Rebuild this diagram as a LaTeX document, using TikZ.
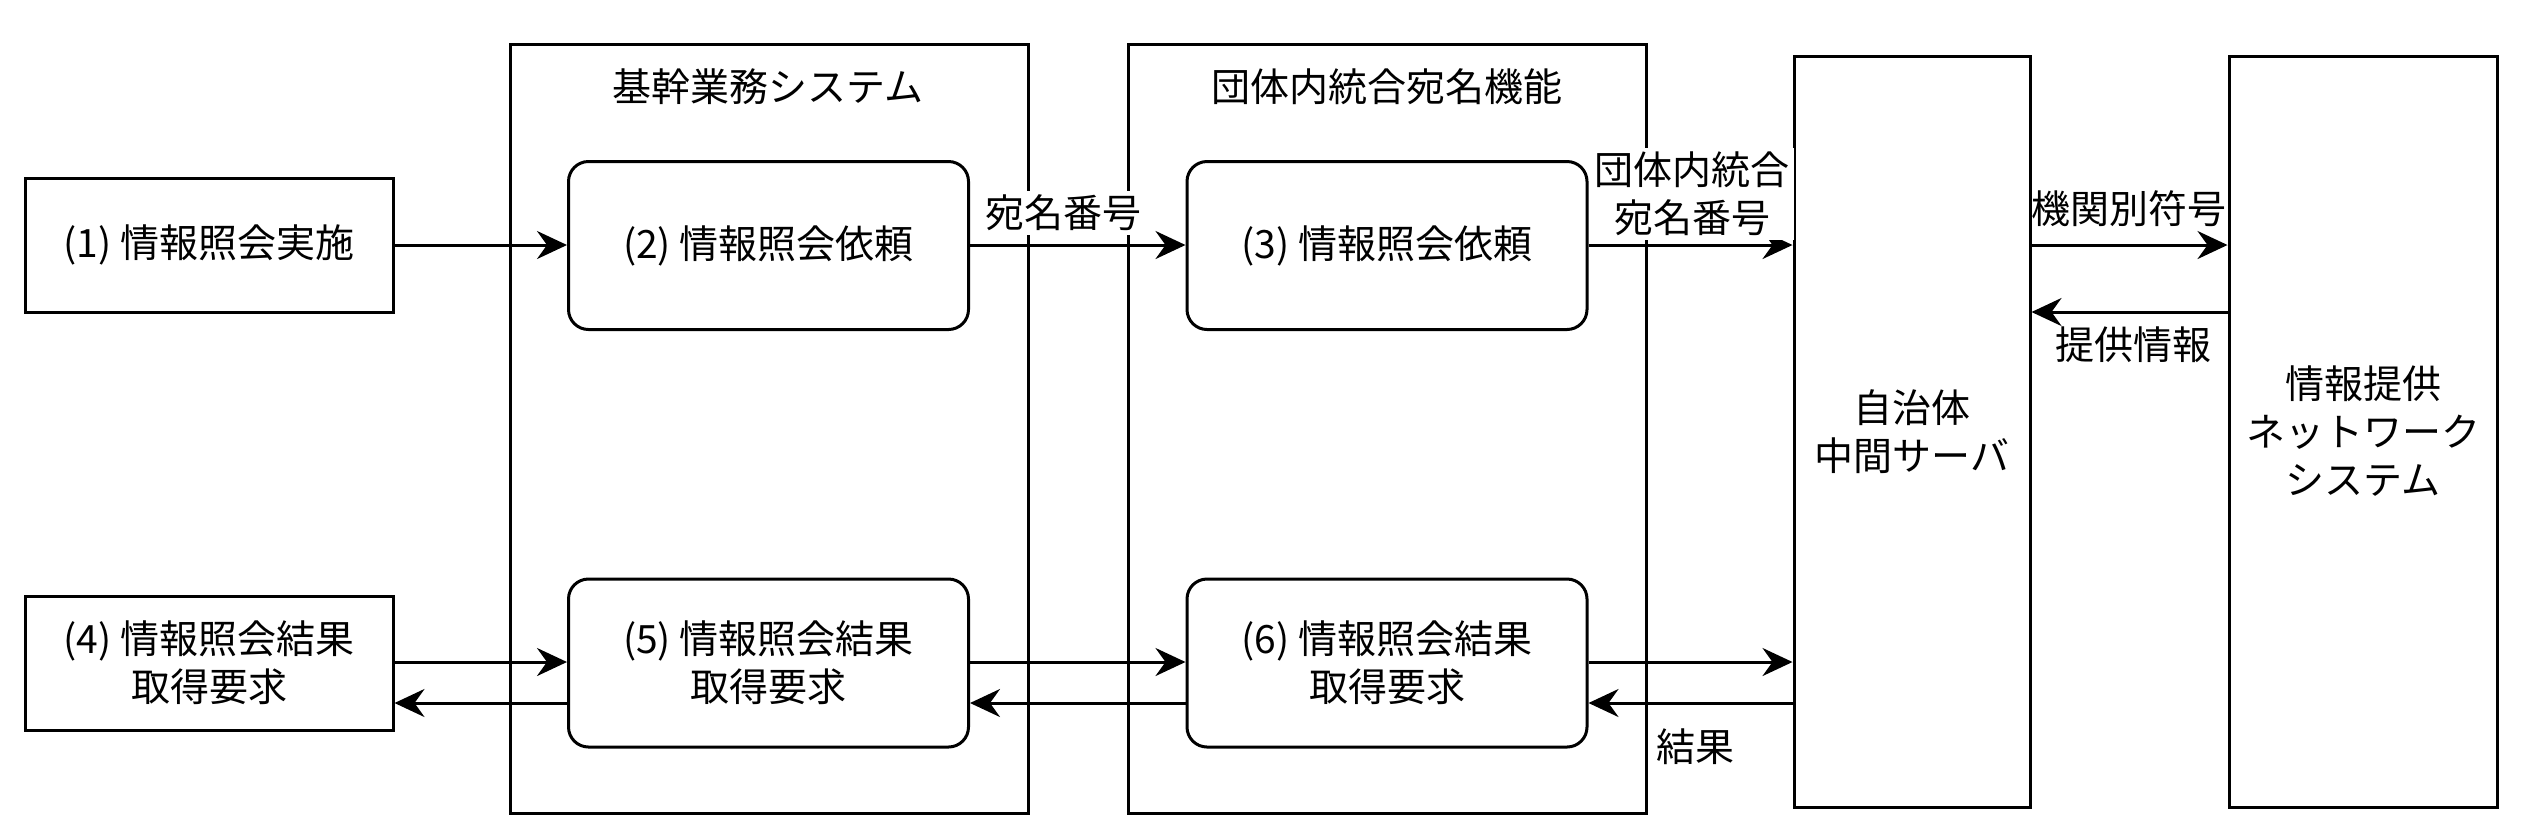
\documentclass[tikz,border=0pt]{standalone}
\usepackage{fontspec}
\setmainfont{Noto Sans CJK JP}
\usepackage{tikz}
\usetikzlibrary{arrows.meta}
\tikzset{every picture/.style={line width=0.75pt}}
\tikzset{
  group/.style={draw, minimum width=129.5pt, minimum height=192.25pt},
  plainbox/.style={draw, minimum width=92pt, minimum height=33.5pt, align=center},
  roundbox/.style={draw, rounded corners=5pt, minimum width=100pt, minimum height=42pt, align=center},
  tallbox/.style={draw, minimum height=187.75pt, align=center},
  lbl/.style={inner sep=1pt, align=center},
  cutlbl/.style={lbl, fill=white}
}

\begin{document}
\begin{tikzpicture}[x=0.25pt,y=0.25pt,yscale=-1,xscale=1,
    font=\fontsize{9.75}{12}\selectfont,
    >={Stealth[length=7.5pt,width=7pt,inset=2.5pt]}]
		\useasboundingbox (0,0) rectangle (2526,838);
		
		%Shape: Rectangle [group] 
		\node [group] (kikan) at (769,428.5) {};
		%Shape: Rectangle [group] 
		\node [group] (atena) at (1387,428.5) {};
		% Text Node
		\node (kikantitle) at (768,87) {基幹業務システム};
		% Text Node
		\node (atenatitle) at (1387,87) {団体内統合宛名機能};
		
		%Shape: Rectangle 
		\node [plainbox] (s1) at (209,245) {(1) 情報照会実施};
		%Shape: Rounded Rect 
		\node [roundbox] (s2) at (768.5,245.5) {(2) 情報照会依頼};
		%Shape: Rounded Rect 
		\node [roundbox] (s3) at (1387,245.5) {(3) 情報照会依頼};
		%Shape: Rectangle 
		\node [plainbox] (s4) at (209,663) {(4) 情報照会結果\\取得要求};
		%Shape: Rounded Rect 
		\node [roundbox] (s5) at (768.5,663) {(5) 情報照会結果\\取得要求};
		%Shape: Rounded Rect 
		\node [roundbox] (s6) at (1387,663) {(6) 情報照会結果\\取得要求};
		%Shape: Rectangle 
		\node [tallbox, minimum width=59pt] (chukan) at (1912,431.5) {自治体\\中間サーバ};
		%Shape: Rectangle 
		\node [tallbox, minimum width=67pt] (nwsys) at (2363,431.5) {情報提供\\ネットワーク\\システム};
		
		% rows of the connectors
		\coordinate (ask) at (0,245);
		\coordinate (ret) at (0,312);
		\coordinate (req) at (0,662);
		\coordinate (res) at (0,703);
		
		%Straight Lines 
		\draw [->] (ask -| s1.east) -- (ask -| s2.west);
		\draw [->] (ask -| s2.east) -- (ask -| s3.west);
		\draw [->] (ask -| s3.east) -- (ask -| chukan.west);
		\draw [->] (ask -| chukan.east) -- (ask -| nwsys.west);
		\draw [->] (ret -| nwsys.west) -- (ret -| chukan.east);
		\draw [->] (req -| s4.east) -- (req -| s5.west);
		\draw [->] (res -| s5.west) -- (res -| s4.east);
		\draw [->] (req -| s5.east) -- (req -| s6.west);
		\draw [->] (res -| s6.west) -- (res -| s5.east);
		\draw [->] (req -| s6.east) -- (req -| chukan.west);
		\draw [->] (res -| chukan.west) -- (res -| s6.east);
		
		% Text Node
		\node [cutlbl] (atenano) at (1063,213) {宛名番号};
		% Text Node
		\node [cutlbl] (togono) at (1692,194) {団体内統合\\宛名番号};
		% Text Node
		\node [lbl] (kikanno) at (2129,209) {機関別符号};
		% Text Node
		\node [lbl] (teikyo) at (2133,345) {提供情報};
		% Text Node
		\node [lbl] (kekka) at (1695,747) {結果};
		
\end{tikzpicture}
\end{document}
